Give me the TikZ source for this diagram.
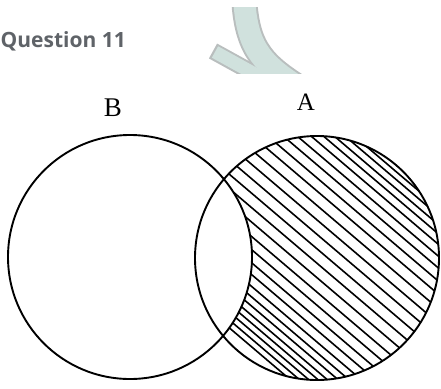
\documentclass[tikz,border=0pt]{standalone}
\usepackage{fontspec}
\setmainfont{Liberation Serif}
\newfontfamily\qfont{Open Sans}
\definecolor{qgray}{RGB}{95,99,104}
\definecolor{wmfill}{RGB}{208,225,221}
\definecolor{wmline}{RGB}{185,190,190}
\tikzset{
  setline/.style={line width=1.9pt, black},
  hatchline/.style={line width=1.6pt, black},
  lbl/.style={inner sep=0pt, anchor=base}
}
\begin{document}
\begin{tikzpicture}[x=1pt,y=-1pt]
\useasboundingbox (0,0) rectangle (441,388);
% watermark
\begin{scope}
  \clip (0,7) rectangle (441,73);
  \draw[wmline, line width=26pt] (244,-5) .. controls (246,45) and (260,62) .. (295,85);
  \draw[wmline, line width=17pt] (213,51) -- (262,78);
  \draw[wmfill, line width=22pt] (244,-5) .. controls (246,45) and (260,62) .. (295,85);
  \draw[wmfill, line width=13pt] (215,52) -- (262,78);
\end{scope}
\node[lbl, anchor=base west, font=\qfont\bfseries\fontsize{21}{25}\selectfont, text=qgray] (q) at (0.5,47) {Question 11};
% hatching of A minus B
\begin{scope}
  \clip (317,258) circle[radius=122pt];
  \foreach \t in {-110,-104,-98,-92,-86,-79,-72,-64,-55,-46,-36,-26,-15,-4,7,18,29,40,51,61,71,80,89,97,104,111,117,123,129}
    \draw[hatchline] ({317+\t*0.648-200*0.762},{258-\t*0.762-200*0.648}) -- ({317+\t*0.648+200*0.762},{258-\t*0.762+200*0.648});
\end{scope}
\fill[white] (130,257) circle[radius=122pt];
\draw[setline] (130,257) circle[radius=122pt];
\draw[setline] (317,258) circle[radius=122pt];
\node[lbl, font=\fontsize{27}{30}\selectfont] (B) at (113,116) {B};
\node[lbl, font=\fontsize{25}{28}\selectfont] (A) at (306,110) {A};
\end{tikzpicture}
\end{document}
